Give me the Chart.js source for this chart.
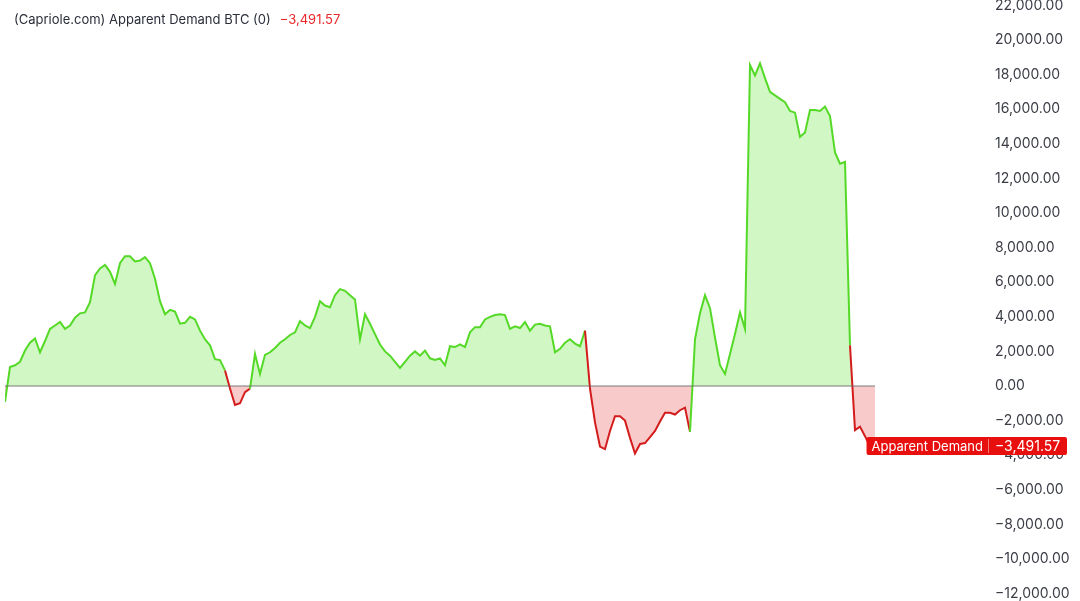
<!DOCTYPE html>
<html>
<head>
<meta charset="utf-8">
<script src="https://cdn.jsdelivr.net/npm/chart.js@4/dist/chart.umd.min.js"></script>
<style>
  html, body { margin: 0; padding: 0; background: #fff; overflow: hidden; }
  #page { position: relative; width: 1080px; height: 601px; overflow: hidden; }
  #wrap { position: absolute; left: 0; top: -13px; width: 1080px; height: 625px; }
  #legend {
    position: absolute; left: 14px; top: 11px;
    font: 13px Inter, "Noto Sans", sans-serif; color: #2a2e39;
  }
  #legend .val { color: #e8282b; margin-left: 9px; }
</style>
</head>
<body>
<div id="page">
  <div id="wrap"><canvas id="chart"></canvas></div>
  <div id="legend">(Capriole.com) Apparent Demand BTC (0)<span class="val">−3,491.57</span></div>
</div>
<script>
const seriesName = "Apparent Demand";

// daily apparent demand, BTC
const demand = [
  -920, 1100, 1200, 1400, 2050, 2500, 2750, 1950, 2600, 3300,
  3500, 3700, 3300, 3500, 3950, 4200, 4250, 4850, 6400, 6800,
  7000, 6600, 5900, 7100, 7500, 7500, 7200, 7250, 7450, 7100,
  6200, 4900, 4150, 4400, 4300, 3600, 3650, 4000, 3850, 3200,
  2700, 2350, 1550, 1500, 900, -150, -1100, -1000, -350, -150,
  1850, 700, 1800, 1950, 2200, 2500, 2700, 2950, 3100, 3750,
  3500, 3350, 4000, 4900, 4650, 4550, 5250, 5600, 5500, 5250,
  5000, 2700, 4150, 3600, 3000, 2400, 2000, 1750, 1400, 1050,
  1400, 1750, 2000, 1750, 2050, 1600, 1500, 1600, 1200, 2300,
  2250, 2400, 2250, 3100, 3400, 3400, 3850, 4000, 4100, 4150,
  4100, 3300, 3450, 3350, 3700, 3200, 3550, 3600, 3500, 3450,
  1950, 2150, 2500, 2700, 2450, 2300, 3200, -150, -2100, -3500,
  -3650, -2600, -1750, -1750, -2000, -3000, -3900, -3350, -3300, -2950,
  -2600, -2050, -1550, -1550, -1650, -1400, -1250, -2650, 2700, 4200,
  5250, 4500, 2800, 1200, 700, 1850, 3000, 4250, 3300, 18550,
  17950, 18650, 17800, 17000, 16800, 16600, 16400, 15900, 15800, 14400,
  14650, 15950, 15950, 15900, 16150, 15600, 13500, 12850, 12950, 2350,
  -2550, -2350, -2900, -3500, -3491.57
];
const days = demand.map((_, i) => i);
const zeroLine = demand.map(() => 0);

const yMin = -12000;
const yMax = 22000;
const yStep = 2000;
const xMax = 196;

const green = "#55d927";
const greenFill = "rgba(100, 230, 60, 0.3)";
const red = "#d41c1c";
const redFill = "rgba(230, 60, 60, 0.27)";
const labelRed = "#e8100f";
const font = "Inter, 'Noto Sans', sans-serif";

function fmt(v) {
  const s = Math.abs(v).toLocaleString("en-US", { minimumFractionDigits: 2, maximumFractionDigits: 2 });
  return (v < 0 ? "\u2212" : "") + s;
}

// red tag on the price scale for the last value
const lastValueLabel = {
  id: "lastValueLabel",
  afterDraw(chart) {
    const ctx = chart.ctx;
    const yScale = chart.scales.y;
    const last = demand[demand.length - 1];
    const y = Math.round(yScale.getPixelForValue(last));
    ctx.save();
    ctx.textBaseline = "middle";
    ctx.textAlign = "left";
    const h = 18;
    const split = yScale.left + 3;
    ctx.font = "13px " + font;
    const nameW = ctx.measureText(seriesName).width + 10;
    const valW = 79;
    ctx.fillStyle = labelRed;
    ctx.beginPath();
    ctx.roundRect(split - nameW, y - h / 2, nameW + valW, h, 2);
    ctx.fill();
    ctx.strokeStyle = "rgba(255,255,255,0.45)";
    ctx.lineWidth = 1;
    ctx.beginPath();
    ctx.moveTo(split + 0.5, y - h / 2 + 2);
    ctx.lineTo(split + 0.5, y + h / 2 - 2);
    ctx.stroke();
    ctx.fillStyle = "#fff";
    ctx.fillText(seriesName, split - nameW + 5, y + 1);
    ctx.font = "14px " + font;
    ctx.fillText(fmt(last), split + 7, y + 1);
    ctx.restore();
  }
};

const ctx = document.getElementById("chart").getContext("2d");
new Chart(ctx, {
  type: "line",
  data: {
    labels: days,
    datasets: [
      {
        label: "zero",
        data: zeroLine,
        borderColor: "rgba(100,100,100,0.85)",
        borderWidth: 1,
        pointRadius: 0,
        fill: false,
      },
      {
        label: seriesName,
        data: demand,
        borderWidth: 2,
        pointRadius: 0,
        tension: 0,
        borderColor: green,
        segment: {
          borderColor: (c) => (c.p1.parsed.y < 0 ? red : green),
        },
        fill: { target: "origin", above: greenFill, below: redFill },
      },
    ],
  },
  options: {
    responsive: true,
    maintainAspectRatio: false,
    animation: false,
    layout: { autoPadding: false, padding: { left: 5, top: 3, bottom: 9, right: 0 } },
    plugins: {
      legend: { display: false },
      tooltip: { enabled: false },
    },
    scales: {
      x: {
        type: "linear",
        min: 0,
        max: xMax,
        display: false,
      },
      y: {
        position: "right",
        min: yMin,
        max: yMax,
        afterFit: (scale) => { scale.width = 95; },
        grid: { display: false, drawTicks: false },
        border: { display: false },
        ticks: {
          stepSize: yStep,
          padding: 10,
          color: "#3a3d45",
          font: { family: font, size: 14 },
          callback: (v) => fmt(v),
        },
      },
    },
  },
  plugins: [lastValueLabel],
});
</script>
</body>
</html>
